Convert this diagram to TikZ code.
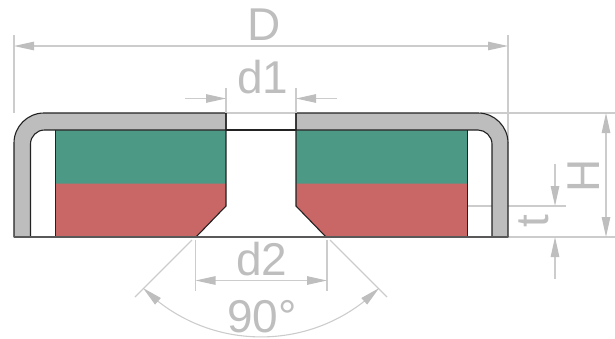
\documentclass[tikz,border=0pt]{standalone}
\usepackage{fontspec}
\setmainfont{Liberation Sans}
\usetikzlibrary{arrows.meta,bending}
\definecolor{cupgrey}{HTML}{BDBDBD}
\definecolor{maggreen}{HTML}{4C9A85}
\definecolor{magred}{HTML}{C96666}
\definecolor{dimline}{HTML}{CCCCCC}
\definecolor{dimtext}{HTML}{BEBEBE}
\definecolor{outline}{HTML}{222222}
\tikzset{
  cup/.style={fill=cupgrey,draw=outline,line width=1.1pt,line join=round},
  magline/.style={draw=outline,line width=1.1pt},
  dimension/.style={draw=dimline,line width=1.1pt},
  dimarrow/.style={dimension,{Triangle[length=20pt,width=8.5pt,color=dimtext]}-{Triangle[length=20pt,width=8.5pt,color=dimtext]}},
  endarrow/.style={dimension,-{Triangle[length=20pt,width=8.5pt,color=dimtext]}},
  dimlabel/.style={text=dimtext,font=\fontsize{46}{46}\selectfont,inner sep=0pt}
}
\begin{document}
\begin{tikzpicture}[x=1pt,y=-1pt]
\useasboundingbox (0,0) rectangle (615,338);
% magnet
\fill[maggreen] (55,130) rectangle (226,183.5);
\fill[maggreen] (296,130) rectangle (467,183.5);
\fill[magred] (55,183.5) -- (226,183.5) -- (226,206) -- (196,237) -- (55,237) -- cycle;
\fill[magred] (296,183.5) -- (467,183.5) -- (467,237) -- (326,237) -- (296,206) -- cycle;
% extension lines (behind)
\draw[dimension] (14,35) -- (14,113);
\draw[dimension] (508,35) -- (508,143);
\draw[dimension] (226,113) -- (296,113);
\draw[dimension] (480,113) -- (615,113);
\draw[dimension] (508,237) -- (615,237);
\draw[dimension] (467,206) -- (566,206);
% cup
\draw[cup] (14,237) -- (14,143) .. controls (14,126.5) and (27.5,113) .. (44,113) -- (226,113) -- (226,130) -- (44.5,130) .. controls (36.8,130) and (30.5,136.3) .. (30.5,144) -- (30.5,237) -- cycle;
\draw[cup] (508,237) -- (508,143) .. controls (508,126.5) and (494.5,113) .. (478,113) -- (296,113) -- (296,130) -- (478,130) .. controls (485.2,130) and (492,136.3) .. (492,144) -- (492,237) -- cycle;
% magnet outlines
\draw[magline] (226,113) -- (226,206) -- (196,237);
\draw[magline] (296,113) -- (296,206) -- (326,237);
\draw[magline] (226,130) -- (296,130);
\draw[draw=outline,line width=.9pt] (55,130) -- (55,237);
\draw[draw=outline,line width=.9pt] (467,130) -- (467,237);
\draw[draw=black!65,line width=1.3pt] (14,237) -- (508,237);
% D
\draw[dimarrow] (14,46) -- (508,46);
\node[dimlabel] (labelD) at (264,24.5) {D};
% d1
\draw[dimension] (226,88) -- (226,113);
\draw[dimension] (296,88) -- (296,113);
\draw[endarrow] (185,98.5) -- (226,98.5);
\draw[endarrow] (337,98.5) -- (296,98.5);
\node[dimlabel] (labeldone) at (263,77) {d1};
% d2
\draw[dimension] (195.5,240) -- (195.5,291);
\draw[dimension] (327,240) -- (327,291);
\draw[dimarrow] (195.5,280.5) -- (327,280.5);
\node[dimlabel] (labeldtwo) at (262,259) {d2};
% 90 degrees
\draw[dimension] (192,240) -- (135,297);
\draw[dimension] (330,240) -- (387,297);
\draw[dimarrow] (143,288) arc[start angle=135,end angle=45,radius=167];
\node[dimlabel] (labelangle) at (262,316.5) {90°};
% H
\draw[dimarrow] (606,113) -- (606,237);
\node[dimlabel,rotate=90] (labelH) at (584,176) {H};
% t
\draw[endarrow] (555,164) -- (555,206);
\draw[endarrow] (555,279) -- (555,237);
\node[dimlabel,rotate=90] (labelt) at (534,221) {t};
\end{tikzpicture}
\end{document}
